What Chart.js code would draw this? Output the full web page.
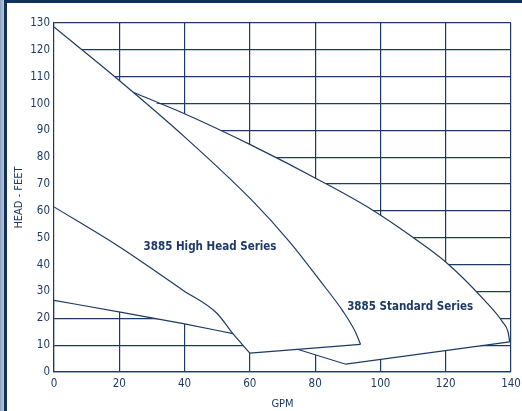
<!DOCTYPE html>
<html>
<head>
<meta charset="utf-8">
<title>3885 pump curves</title>
<script src="https://cdn.jsdelivr.net/npm/chart.js@4.4.1/dist/chart.umd.min.js"></script>
<style>
  html, body { margin: 0; padding: 0; background: #ffffff; }
  #frame { position: relative; width: 522px; height: 411px; overflow: hidden; background: #ffffff; }
  #edge { position: absolute; left: 0; top: 0; width: 4px; height: 411px; background: linear-gradient(to right, #8da2c1, #b9c8dd); }
  #sidebar { position: absolute; left: 4px; top: 0; width: 3px; height: 411px; background: #12305c; }
  #topbar { position: absolute; left: 4px; top: 0; width: 518px; height: 3px; background: #12305c; }
  #pump-chart { position: absolute; left: 0; top: 0; }
</style>
</head>
<body>
<div id="frame">
  <div id="edge"></div>
  <div id="sidebar"></div>
  <div id="topbar"></div>
  <canvas id="pump-chart" width="522" height="411"></canvas>
</div>
<script>
// curve points (GPM / feet of head)
const highHeadGpm  = [0, 20, 40, 60.6, 72.3, 81.5, 88.6, 92.3, 93.9];
const highHeadFeet = [128.5, 108.6, 87.6, 64, 48.3, 34, 22.5, 15, 10.3];

const standardGpm  = [24.4, 40, 60.3, 82.3, 96.8, 109.8, 120, 131.9, 137.5, 139.1, 139.6];
const standardFeet = [104.1, 96.2, 84.6, 70.8, 60.9, 50.3, 41, 26.7, 18.5, 14.9, 11.2];

const middleGpm  = [0, 19.3, 39.6, 49.9, 54.8, 57.5, 60];
const middleFeet = [61.5, 47.2, 30.4, 21.9, 14.3, 10.5, 7];

const lowGpm  = [0, 20.3, 39.6, 54.8];
const lowFeet = [26.7, 22.3, 18, 14.3];

const highBaseGpm  = [60, 93.9];
const highBaseFeet = [7, 10.3];

const standardBaseGpm  = [139.6, 89.4, 74.8];
const standardBaseFeet = [11.2, 2.9, 8.4];

const gpmTicks  = [0, 20, 40, 60, 80, 100, 120, 140];
const headTicks = [0, 10, 20, 30, 40, 50, 60, 70, 80, 90, 100, 110, 120, 130];

const seriesNames = ['3885 High Head Series', '3885 Standard Series'];
const nameGpm  = [47.8, 109.1];
const nameFeet = [46.6, 24.3];

const navy = '#1d3a66';
const fontFamily = "'DejaVu Sans Condensed', 'DejaVu Sans', sans-serif";

window.onload = function () {
    CreatePumpChart();
};

function toPoints(xs, ys) {
    return xs.map((x, i) => ({ x: x, y: ys[i] }));
}

// top edge of the white area: high head curve until the standard curve leaves it
function upperEnvelope() {
    const hh = toPoints(highHeadGpm, highHeadFeet).filter(p => p.x < standardGpm[0]);
    return hh.concat(toPoints(standardGpm, standardFeet));
}

// bottom edge of the white area
function lowerEnvelope() {
    const low = toPoints(lowGpm, lowFeet);
    const mid = toPoints(middleGpm, middleFeet).filter(p => p.x > lowGpm[lowGpm.length - 1]);
    const base = toPoints(standardBaseGpm, standardBaseFeet).reverse();
    return low.concat(mid, base);
}

function curve(xs, ys, smooth) {
    return {
        data: toPoints(xs, ys),
        showLine: true,
        borderColor: navy,
        borderWidth: 1.2,
        pointRadius: 0,
        cubicInterpolationMode: smooth ? 'monotone' : 'default',
        tension: 0,
        fill: false,
        order: 1
    };
}

// writes the series names inside the curves
const seriesLabels = {
    id: 'seriesLabels',
    afterDatasetsDraw(chart) {
        const ctx = chart.ctx;
        ctx.save();
        ctx.fillStyle = navy;
        ctx.font = 'bold 11.5px ' + fontFamily;
        ctx.textAlign = 'center';
        ctx.textBaseline = 'middle';
        seriesNames.forEach((name, i) => {
            ctx.fillText(name, chart.scales.x.getPixelForValue(nameGpm[i]), chart.scales.y.getPixelForValue(nameFeet[i]));
        });
        ctx.restore();
    }
};

function CreatePumpChart() {
    console.log("Creating pump chart");
    const ctx = document.getElementById('pump-chart').getContext('2d');
    const tickFont = { family: fontFamily, size: 11.5 };

    new Chart(ctx, {
        type: 'scatter',
        data: {
            datasets: [
                {
                    data: upperEnvelope(),
                    showLine: true,
                    borderColor: 'rgba(0,0,0,0)',
                    pointRadius: 0,
                    cubicInterpolationMode: 'monotone',
                    backgroundColor: '#ffffff',
                    fill: '+1',
                    order: 2
                },
                {
                    data: lowerEnvelope(),
                    showLine: true,
                    borderColor: 'rgba(0,0,0,0)',
                    pointRadius: 0,
                    fill: false,
                    order: 3
                },
                curve(highHeadGpm, highHeadFeet, true),
                curve(standardGpm, standardFeet, true),
                curve(middleGpm, middleFeet, true),
                curve(lowGpm, lowFeet, true),
                curve(highBaseGpm, highBaseFeet, false),
                curve(standardBaseGpm, standardBaseFeet, false)
            ]
        },
        options: {
            responsive: false,
            animation: false,
            layout: { padding: { top: 23, right: 11, left: 0, bottom: 0 } },
            plugins: {
                legend: { display: false },
                tooltip: { enabled: false }
            },
            scales: {
                x: {
                    type: 'linear',
                    min: 0,
                    max: 140,
                    afterBuildTicks: scale => { scale.ticks = gpmTicks.map(v => ({ value: v })); },
                    afterFit: scale => {
                        scale.height = 39;
                        scale.paddingLeft = 0;
                        scale.paddingRight = 0;
                    },
                    ticks: { color: navy, font: tickFont, padding: 5 },
                    grid: { color: navy, lineWidth: 1.2, drawTicks: false },
                    border: { color: navy, width: 1.2, z: 1 },
                    title: { display: true, text: 'GPM', color: navy, font: { family: fontFamily, size: 11 }, padding: { top: 0, bottom: 0 } }
                },
                y: {
                    type: 'linear',
                    min: 0,
                    max: 130,
                    afterBuildTicks: scale => { scale.ticks = headTicks.map(v => ({ value: v })); },
                    afterFit: scale => { scale.width = 54; },
                    ticks: { color: navy, font: tickFont, padding: 4 },
                    grid: { color: navy, lineWidth: 1.2, drawTicks: false },
                    border: { color: navy, width: 1.2, z: 1 },
                    title: { display: true, text: 'HEAD - FEET', color: navy, font: { family: fontFamily, size: 11 }, padding: { top: 13, bottom: 0 } }
                }
            }
        },
        plugins: [seriesLabels]
    });
    console.log('pump chart created');
}
</script>
</body>
</html>
